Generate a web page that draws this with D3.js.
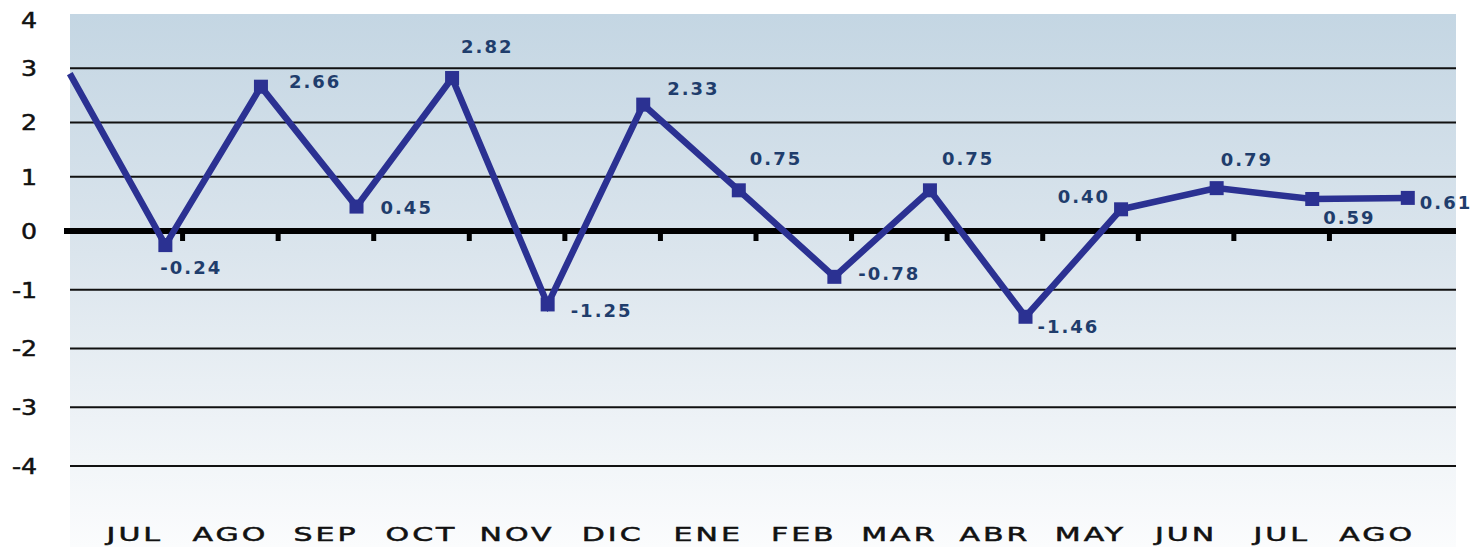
<!DOCTYPE html>
<html>
<head>
<meta charset="utf-8">
<script src="https://cdn.jsdelivr.net/npm/d3@7"></script>
<style>
    html, body { margin: 0; padding: 0; background: #fff; }
    svg { display: block; }
    .ylabel { font-family: "DejaVu Sans", sans-serif; font-size: 21px; fill: #111; stroke: #111; stroke-width: 0.5px; }
    .month { font-family: "DejaVu Sans", sans-serif; font-size: 20px; fill: #111; stroke: #111; stroke-width: 0.5px; letter-spacing: 2px; }
    .value { font-family: "DejaVu Sans", sans-serif; font-size: 18px; font-weight: bold; fill: #1f3d6c; letter-spacing: 2px; }
</style>
</head>
<body>
<svg id="chart" width="1472" height="547"></svg>
<script>
(function () {

    var months = ['JUL', 'AGO', 'SEP', 'OCT', 'NOV', 'DIC', 'ENE', 'FEB', 'MAR', 'ABR', 'MAY', 'JUN', 'JUL', 'AGO'];
    var values = [-0.24, 2.66, 0.45, 2.82, -1.25, 2.33, 0.75, -0.78, 0.75, -1.46, 0.40, 0.79, 0.59, 0.61];
    // month before JUL, only the line end is visible at the left edge
    var previousValue = 2.9;
    var yTicks = [4, 3, 2, 1, 0, -1, -2, -3, -4];

    // label offsets from each point [dx, dy, anchor]
    var labelOffsets = [
        [-5, 24, 'start'], [28, -4, 'start'], [24, 2, 'start'], [9, -30, 'start'],
        [23, 8, 'start'], [24, -15, 'start'], [11, -30, 'start'], [24, -2, 'start'],
        [12, -30, 'start'], [12, 11, 'start'], [-11, -11, 'end'], [4, -27, 'start'],
        [11, 20, 'start'], [12, 6, 'start']
    ];

    var plot = { left: 70, right: 1456, top: 14, bottom: 547 },
        svg = d3.select('#chart');

    var x = d3.scaleBand()
        .domain(d3.range(months.length))
        .range([87, 1425])
        .padding(0);

    var bw = x.bandwidth(),
        pointX = function (i) {
            return i < 0 ? x(0) - bw * 0.18 : x(i) + bw * 0.82;
        };

    var y = d3.scaleLinear()
        .domain([-4, 0, 4])
        .range([466, 231, 14]);

    var defs = svg.append('defs'),
        grad = defs.append('linearGradient')
            .attr('id', 'bg')
            .attr('x1', 0).attr('y1', 0)
            .attr('x2', 0).attr('y2', 1);

    grad.append('stop').attr('offset', '0%').attr('stop-color', '#c4d6e3');
    grad.append('stop').attr('offset', '45%').attr('stop-color', '#dbe5ed');
    grad.append('stop').attr('offset', '100%').attr('stop-color', '#fbfcfd');

    svg.append('rect')
        .attr('x', plot.left)
        .attr('y', plot.top)
        .attr('width', plot.right - plot.left)
        .attr('height', plot.bottom - plot.top)
        .attr('fill', 'url(#bg)');

    // gridlines
    svg.append('g')
        .selectAll('line')
        .data(yTicks.filter(function (t) { return t !== 0 && t !== 4; }))
        .enter()
        .append('line')
        .attr('x1', plot.left)
        .attr('x2', plot.right)
        .attr('y1', function (d) { return y(d); })
        .attr('y2', function (d) { return y(d); })
        .attr('stroke', '#111')
        .attr('stroke-width', 2);

    // zero line and its ticks
    svg.append('line')
        .attr('x1', plot.left - 6)
        .attr('x2', plot.right)
        .attr('y1', y(0))
        .attr('y2', y(0))
        .attr('stroke', '#000')
        .attr('stroke-width', 6);

    svg.append('g')
        .selectAll('rect')
        .data(d3.range(1, months.length))
        .enter()
        .append('rect')
        .attr('x', function (d) { return x(d) - 2.5; })
        .attr('y', y(0))
        .attr('width', 5)
        .attr('height', 10)
        .attr('fill', '#000');

    svg.append('g')
        .selectAll('text')
        .data(yTicks)
        .enter()
        .append('text')
        .classed('ylabel', true)
        .attr('text-anchor', 'end')
        .attr('dominant-baseline', 'middle')
        .attr('transform', function (d) {
            var ty = y(d) + (d === 4 ? 8 : 2);
            return 'translate(37,' + ty + ') scale(1.2,1)';
        })
        .text(function (d) { return d < 0 ? '-' + Math.abs(d) : d; });

    svg.append('g')
        .selectAll('text')
        .data(months)
        .enter()
        .append('text')
        .classed('month', true)
        .attr('text-anchor', 'middle')
        .attr('transform', function (d, i) {
            return 'translate(' + (x(i) + bw / 2) + ',541) scale(1.5,1)';
        })
        .text(function (d) { return d; });

    var pts = [[pointX(-1), y(previousValue)]].concat(values.map(function (v, i) {
        return [pointX(i), y(v)];
    }));

    svg.append('path')
        .attr('d', d3.line()(pts))
        .attr('fill', 'none')
        .attr('stroke', '#2b3192')
        .attr('stroke-width', 6.5)
        .attr('stroke-linejoin', 'miter');

    svg.append('g')
        .selectAll('rect')
        .data(values)
        .enter()
        .append('rect')
        .attr('x', function (d, i) { return pointX(i) - 7; })
        .attr('y', function (d) { return y(d) - 7; })
        .attr('width', 14)
        .attr('height', 14)
        .attr('fill', '#2b3192');

    svg.append('g')
        .selectAll('text')
        .data(values)
        .enter()
        .append('text')
        .classed('value', true)
        .attr('x', function (d, i) { return pointX(i) + labelOffsets[i][0]; })
        .attr('y', function (d, i) { return y(d) + labelOffsets[i][1]; })
        .attr('text-anchor', function (d, i) { return labelOffsets[i][2]; })
        .attr('dominant-baseline', 'middle')
        .text(function (d) { return d.toFixed(2); });

})();
</script>
</body>
</html>
